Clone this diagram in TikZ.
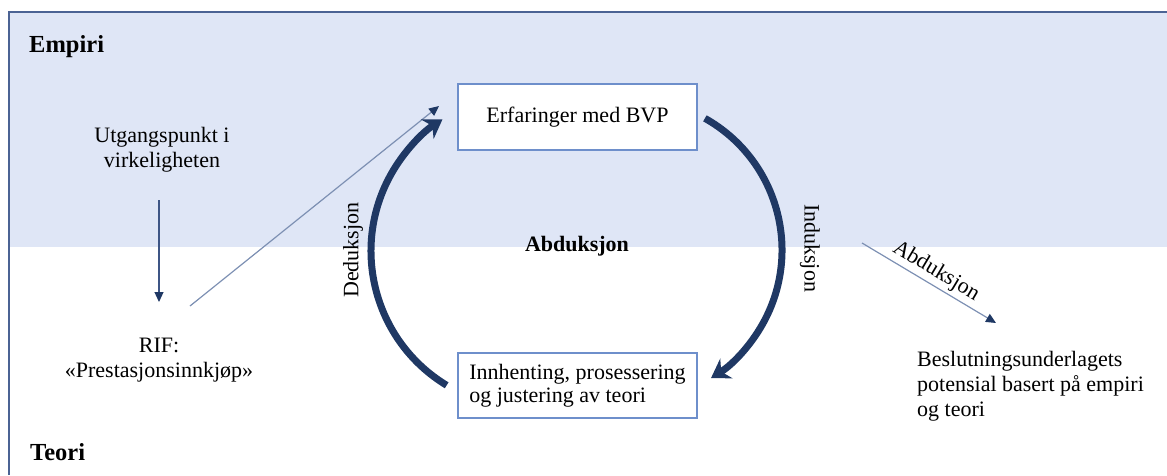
\documentclass[tikz,border=0pt]{standalone}
\usepackage{fontspec}
\setmainfont{Liberation Serif}
\usetikzlibrary{arrows.meta,calc}

\definecolor{bandfill}{HTML}{DFE6F6}
\definecolor{framecol}{HTML}{4B6394}
\definecolor{boxcol}{HTML}{6E8FCB}
\definecolor{navy}{HTML}{1F3864}
\definecolor{slate}{HTML}{7D90B3}
\definecolor{darkslate}{HTML}{3D5585}

\tikzset{
  txt/.style={inner sep=0pt, text=black, font=\fontsize{22}{25}\selectfont},
  heading/.style={inner sep=0pt, font=\fontsize{24.5}{28}\selectfont\bfseries},
  stepbox/.style={draw=boxcol, line width=1.5pt, fill=white, inner sep=0pt,
    minimum width=239pt, minimum height=66pt, align=left,
    font=\fontsize{22}{23.5}\selectfont},
  thinarrow/.style={line width=1.2pt, -{Triangle[length=10pt,width=9pt,color=navy]}},
  bigarc/.style={navy, line width=7pt, -{Stealth[length=18pt,width=23pt,inset=6pt]}},
}

\begin{document}
\begin{tikzpicture}[x=1pt,y=-1pt]
\useasboundingbox (0,0) rectangle (1167,475);

% empirical band and frame
\fill[bandfill] (9,12) rectangle (1167,247);
\draw[framecol, line width=2pt] (9,475) -- (9,12) -- (1167,12);

% level headings
\node[heading, anchor=base west] (empiri) at (29,52) {Empiri};
\node[heading, anchor=base west] (teori) at (30,460) {Teori};

% left column
\node[txt, align=center] (utg) at (162,150) {Utgangspunkt i\\virkeligheten};
\node[txt, align=center] (rif) at (159,360) {RIF:\\«Prestasjonsinnkjøp»};

% the two boxes of the cycle
\node[stepbox] (erf) at (577.5,117) {Erfaringer med BVP};
\node[stepbox, minimum height=65pt] (inn) at (577.5,385.5) {Innhenting, prosessering\\og justering av teori};

% result text
\node[txt, align=left, anchor=west] (res) at (917,386)
  {Beslutningsunderlagets\\potensial basert på empiri\\og teori};

% connector end points
\coordinate (utgEnd) at (159,200);
\coordinate (rifTop) at (159,302);
\coordinate (rifStart) at (190,306);
\coordinate (erfIn) at (439,106);
\coordinate (abdStart) at (862,243);
\coordinate (resTop) at (996,323);
\coordinate (lc) at (528,251);
\coordinate (rc) at (631,250);

% thin arrows
\draw[thinarrow, darkslate] (utgEnd) -- (rifTop);
\draw[thinarrow, slate] (rifStart) -- (erfIn);
\draw[thinarrow, slate] (abdStart) -- node[txt, sloped, above=3pt] (abdlbl) {Abduksjon} (resTop);

% deduction and induction arcs
\draw[bigarc] (lc) ++(-121.2:157pt) arc[start angle=-121.2, end angle=-237, radius=157pt];
\draw[bigarc] (rc) ++(60.7:151pt) arc[start angle=60.7, end angle=-58, radius=151pt];

% arc labels
\node[txt, rotate=90] (ded) at (353,250) {Deduksjon};
\node[txt, rotate=-90] (ind) at (810,248) {Induksjon};
\node[txt, font=\fontsize{22}{25}\selectfont\bfseries] (abd) at (577,246) {Abduksjon};
\end{tikzpicture}
\end{document}
